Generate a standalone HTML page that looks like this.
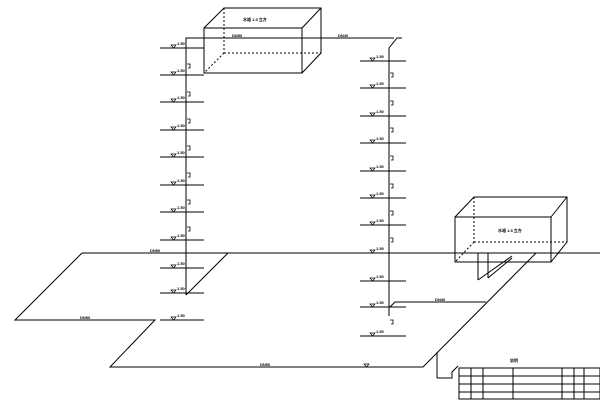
<!DOCTYPE html>
<html><head><meta charset="utf-8"><style>html,body{margin:0;padding:0;background:#fff}svg{display:block}text{font-family:"Liberation Sans","Noto Sans CJK SC",sans-serif;font-weight:bold;fill:#000}</style></head>
<body>
<svg width="600" height="401" viewBox="0 0 600 401" xmlns="http://www.w3.org/2000/svg">
<defs><path id="tri" d="M0 0H5L2.5 3Z" fill="none" stroke="#000" stroke-width="0.7"/></defs>
<g stroke="#000" stroke-width="1" fill="none">
<rect x="204" y="28" width="98" height="45"/>
<polyline points="204,28 224,8 321,8 321,53 302,73"/>
<line x1="302" y1="28" x2="321" y2="8"/>
<g stroke-dasharray="2,2"><line x1="224" y1="8" x2="224" y2="53"/><line x1="224" y1="53" x2="321" y2="53"/><line x1="224" y1="53" x2="204" y2="73"/></g>
<rect x="455" y="217" width="96" height="45"/>
<polyline points="455,217 474,197 567,197 567,242 551,262"/>
<line x1="551" y1="217" x2="567" y2="197"/>
<g stroke-dasharray="2,2"><line x1="474" y1="197" x2="474" y2="242"/><line x1="474" y1="242" x2="567" y2="242"/><line x1="474" y1="242" x2="455" y2="262"/></g>
<polyline points="186,295 186,38 394,38"/>
<line x1="389" y1="48" x2="389" y2="316"/>
<polyline points="389,48 397,38 402,38"/>
<path d="M160 48H204M160 75H204M160 102H204M160 130H204M160 157H204M160 185H204M160 212H204M160 240H204M160 268H204M160 293H204M160 320H204"/>
<path d="M360 61H406M360 88H406M360 116H406M360 143H406M360 171H406M360 198H406M360 225H406M360 281H406M360 307H406M360 336H406"/>
<polyline points="82,253 600,253"/>
<polyline points="82,253 15,320 155,320 110,367 423,367 536,253"/>
<line x1="228" y1="253" x2="186" y2="295"/>
<polyline points="390,307 395,302 486,302"/>
<line x1="478" y1="253" x2="478" y2="280"/>
<line x1="488" y1="253" x2="488" y2="278"/>
<line x1="478" y1="280" x2="512" y2="256"/>
<line x1="488" y1="278" x2="512" y2="258"/>
<line x1="437" y1="352" x2="437" y2="378"/>
<polyline points="437,378 452,378 452,372 458,366"/>
<rect x="459" y="368" width="141" height="31"/>
<path d="M459 376H600M459 384H600M459 392H600M471 368V399M483 368V399M513 368V399M562 368V399M574 368V399M584 368V399"/>
<!-- valve marks on risers -->
<path d="M187 64h3v4h-2M187 92h3v4h-2M187 119h3v4h-2M187 146h3v4h-2M187 173h3v4h-2M187 200h3v4h-2M187 227h3v4h-2" stroke-width="0.8"/>
<path d="M390 73h3v4h-2M390 101h3v4h-2M390 128h3v4h-2M390 156h3v4h-2M390 184h3v4h-2M390 211h3v4h-2M390 238h3v4h-2M390 320h3v4h-2" stroke-width="0.8"/>
</g>
<g>
<use href="#tri" x="171" y="45"/><use href="#tri" x="171" y="72"/><use href="#tri" x="171" y="99"/><use href="#tri" x="171" y="127"/><use href="#tri" x="171" y="154"/><use href="#tri" x="171" y="182"/><use href="#tri" x="171" y="209"/><use href="#tri" x="171" y="237"/><use href="#tri" x="171" y="265"/><use href="#tri" x="171" y="290"/><use href="#tri" x="171" y="317"/>
<use href="#tri" x="370" y="58"/><use href="#tri" x="370" y="85"/><use href="#tri" x="370" y="113"/><use href="#tri" x="370" y="140"/><use href="#tri" x="370" y="168"/><use href="#tri" x="370" y="195"/><use href="#tri" x="370" y="222"/><use href="#tri" x="370" y="250"/><use href="#tri" x="370" y="278"/><use href="#tri" x="370" y="304"/><use href="#tri" x="370" y="333"/><use href="#tri" x="364" y="364"/>
</g>
<g font-size="4">
<text x="243" y="21">水箱 1.5 立方</text>
<text x="498" y="232">水箱 1.5 立方</text>
<text x="232" y="37">DN50</text><text x="338" y="37">DN40</text>
<text x="177" y="45">1.50</text><text x="177" y="72">1.50</text><text x="177" y="99">1.50</text><text x="177" y="127">1.50</text><text x="177" y="154">1.50</text><text x="177" y="182">1.50</text><text x="177" y="209">1.50</text><text x="177" y="237">1.50</text><text x="177" y="265">1.50</text><text x="177" y="290">1.50</text><text x="177" y="317">1.50</text>
<text x="376" y="58">1.50</text><text x="376" y="85">1.50</text><text x="376" y="113">1.50</text><text x="376" y="140">1.50</text><text x="376" y="168">1.50</text><text x="376" y="195">1.50</text><text x="376" y="222">1.50</text><text x="376" y="250">1.50</text><text x="376" y="278">1.50</text><text x="376" y="304">1.50</text><text x="376" y="333">1.50</text>
<text x="150" y="252">DN50</text><text x="80" y="319">DN50</text><text x="260" y="366">DN50</text><text x="435" y="301">DN40</text><text x="510" y="362">说明</text>
</g>
</svg>
</body></html>
